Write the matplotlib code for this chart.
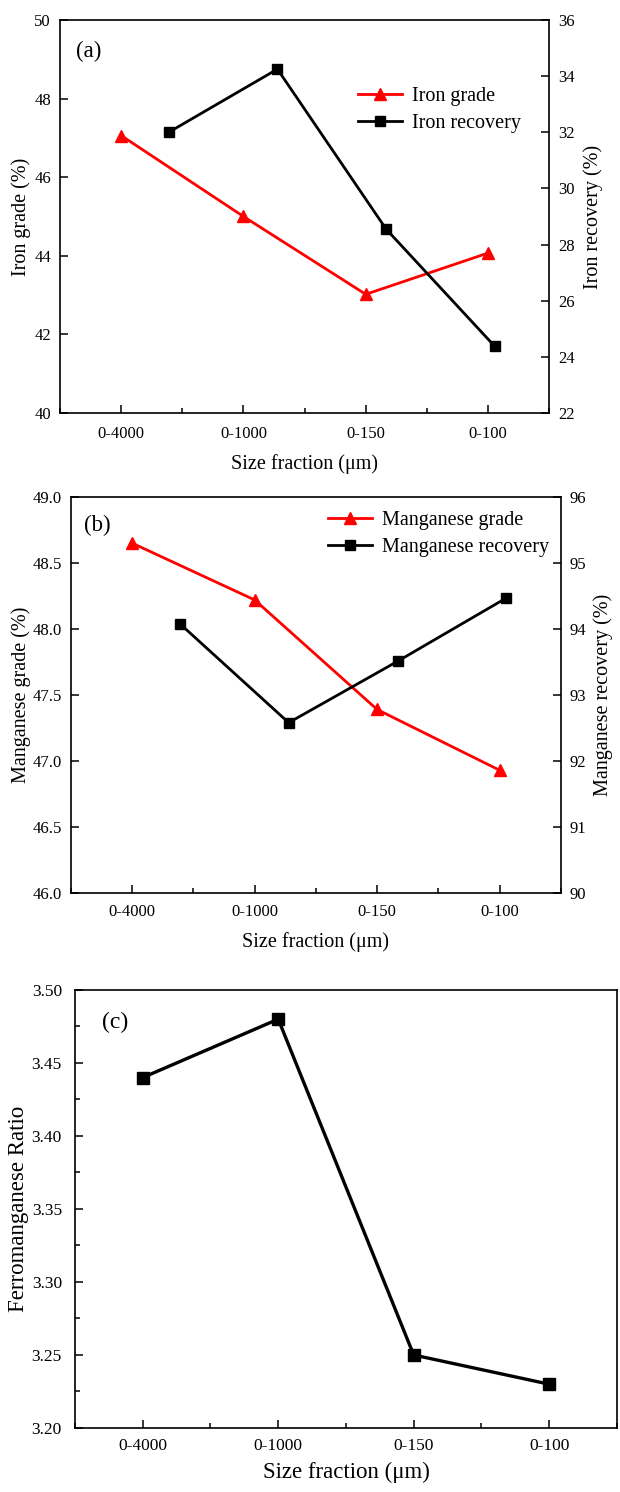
import matplotlib
matplotlib.use("Agg")
import matplotlib.pyplot as plt
from matplotlib.ticker import MultipleLocator, AutoMinorLocator

plt.rcParams['font.family'] = ['Liberation Serif', 'DejaVu Serif']

sizes = ['0-4000', '0-1000', '0-150', '0-100']

iron_grade = [47.06, 45.0, 43.02, 44.07]
iron_recovery = [32.0, 34.25, 28.55, 24.37]

mn_grade = [48.65, 48.22, 47.39, 46.93]
mn_recovery = [94.08, 92.58, 93.51, 94.47]

fe_mn_ratio = [3.44, 3.48, 3.25, 3.23]

RED = '#ff0000'
LW = 2.0
MS = 7


def style_ticks(ax, labelsize=12, ypad=6.5, xpad=9):
    ax.tick_params(direction='in', length=6, width=1.1, labelsize=labelsize)
    ax.tick_params(axis='y', pad=ypad)
    ax.tick_params(axis='x', pad=xpad)
    ax.tick_params(which='minor', direction='in', length=3.5, width=1.1)
    for s in ax.spines.values():
        s.set_linewidth(1.2)


def dual_panel(rect, grade, recovery, ylim1, step1, ylim2, step2,
               ylab1, ylab2, lab1, lab2, tag, tag_xy, leg_xy, fmt1,
               xpad, lpad1, lpad2):
    ax = fig.add_axes(rect)
    x = list(range(len(sizes)))
    l1, = ax.plot(x, grade, color=RED, lw=LW, marker='^', ms=MS + 1, label=lab1)
    ax.set_xlim(-0.5, 3.5)
    ax.set_ylim(*ylim1)
    ax.yaxis.set_major_locator(MultipleLocator(step1))
    ax.yaxis.set_major_formatter(fmt1)
    ax.set_xticks(x)
    ax.set_xticklabels(sizes)
    ax.xaxis.set_minor_locator(MultipleLocator(0.5))
    style_ticks(ax, xpad=xpad)
    ax.tick_params(axis='y', which='minor', left=False)
    ax.set_xlabel('Size fraction (μm)', fontsize=14.5, labelpad=9)
    ax.set_ylabel(ylab1, fontsize=14.5, labelpad=lpad1)

    # second series sits on its own x scale, as in the original figure
    ax2 = fig.add_axes(rect, frameon=False)
    l2, = ax2.plot(x, recovery, color='black', lw=LW, marker='s', ms=MS, label=lab2)
    ax2.set_xlim(-1.0, 3.5)
    ax2.set_ylim(*ylim2)
    ax2.yaxis.set_major_locator(MultipleLocator(step2))
    ax2.yaxis.tick_right()
    ax2.yaxis.set_label_position('right')
    ax2.xaxis.set_visible(False)
    style_ticks(ax2)
    ax2.set_ylabel(ylab2, fontsize=14.5, labelpad=lpad2)

    ax.text(tag_xy[0], tag_xy[1], tag, transform=ax.transAxes, fontsize=16.5,
            va='center', ha='left')
    ax2.legend([l1, l2], [lab1, lab2], loc='upper left', bbox_to_anchor=leg_xy,
               frameon=False, fontsize=14.5, handlelength=2.2, handletextpad=0.5,
               borderpad=0, borderaxespad=0, labelspacing=0.4)
    return ax, ax2


fig = plt.figure(figsize=(6.2, 14.92), dpi=100)

dual_panel([0.0968, 0.7232, 0.789, 0.2634], iron_grade, iron_recovery,
           (40, 50), 2, (22, 36), 2,
           'Iron grade (%)', 'Iron recovery (%)', 'Iron grade', 'Iron recovery',
           '(a)', (0.033, 0.921), (0.609, 0.83), '{x:.0f}',
           xpad=9.3, lpad1=2.5, lpad2=6)

dual_panel([0.1145, 0.4015, 0.790, 0.2654], mn_grade, mn_recovery,
           (46, 49), 0.5, (90, 96), 1,
           'Manganese grade (%)', 'Manganese recovery (%)',
           'Manganese grade', 'Manganese recovery',
           '(b)', (0.027, 0.929), (0.524, 0.965), '{x:.1f}',
           xpad=8, lpad1=1, lpad2=5)

axc = fig.add_axes([0.121, 0.0429, 0.874, 0.2936])
xc = list(range(len(sizes)))
axc.plot(xc, fe_mn_ratio, color='black', lw=LW + 0.4, marker='s', ms=MS + 1)
axc.set_xlim(-0.5, 3.5)
axc.set_ylim(3.20, 3.50)
axc.yaxis.set_major_locator(MultipleLocator(0.05))
axc.yaxis.set_minor_locator(AutoMinorLocator(2))
axc.yaxis.set_major_formatter('{x:.2f}')
axc.set_xticks(xc)
axc.set_xticklabels(sizes)
axc.xaxis.set_minor_locator(MultipleLocator(0.5))
style_ticks(axc, labelsize=12.5, ypad=9.5, xpad=7.5)
axc.set_xlabel('Size fraction (μm)', fontsize=16.5, labelpad=5)
axc.set_ylabel('Ferromanganese Ratio', fontsize=16.5, labelpad=2)
axc.text(0.05, 0.925, '(c)', transform=axc.transAxes, fontsize=17, va='center')

fig.savefig('out.png', dpi=100)
